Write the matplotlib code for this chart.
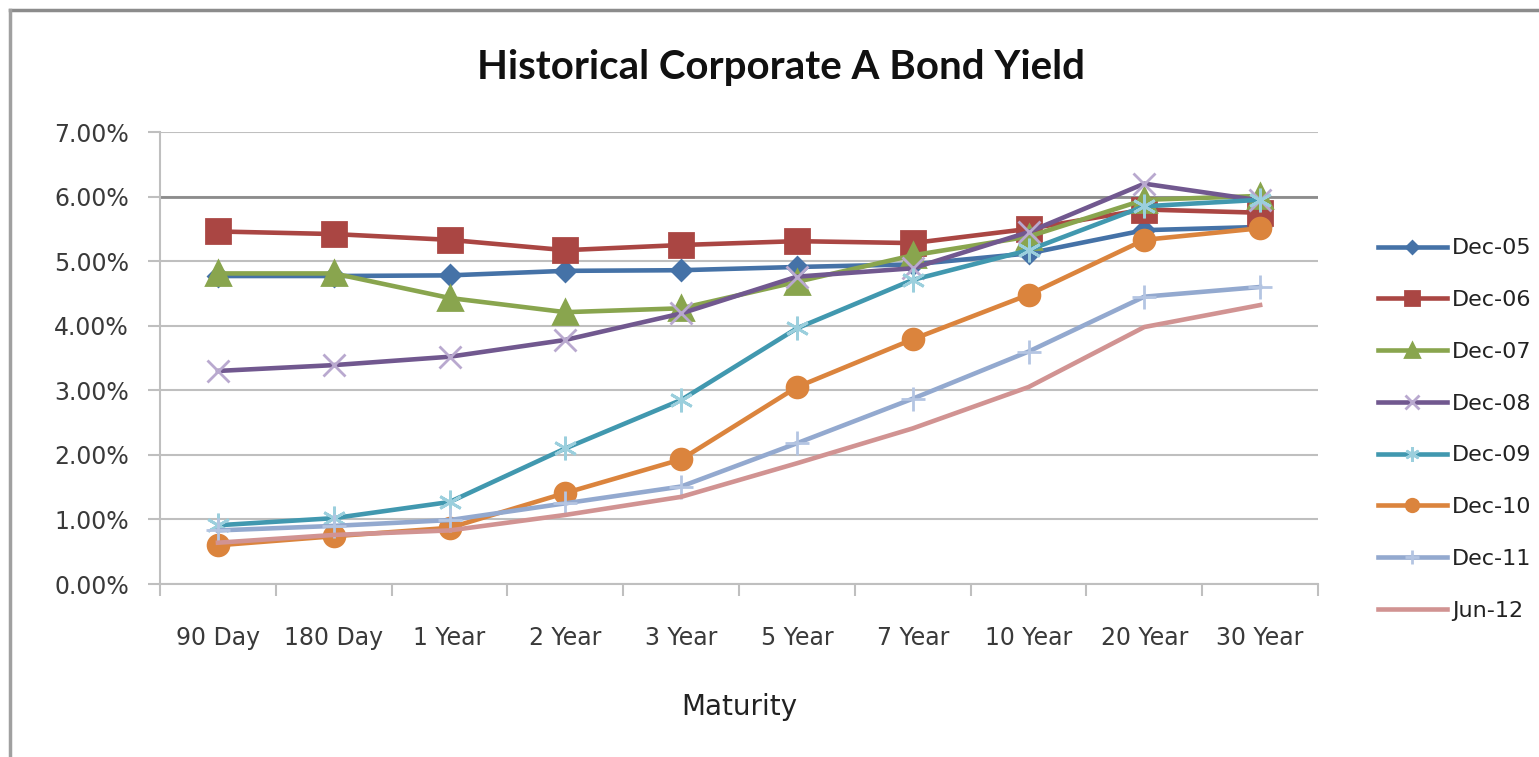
import matplotlib
matplotlib.use("Agg")
from matplotlib import pyplot as plt
from matplotlib.lines import Line2D
import numpy as np

# Maturities on the x axis
maturities = ["90 Day", "180 Day", "1 Year", "2 Year", "3 Year",
              "5 Year", "7 Year", "10 Year", "20 Year", "30 Year"]

# Yields in percent
dec05 = [4.77, 4.77, 4.78, 4.85, 4.86, 4.91, 4.95, 5.12, 5.48, 5.53]
dec06 = [5.46, 5.42, 5.33, 5.17, 5.25, 5.31, 5.28, 5.50, 5.80, 5.75]
dec07 = [4.81, 4.81, 4.43, 4.21, 4.27, 4.68, 5.09, 5.38, 5.95, 6.01]
dec08 = [3.30, 3.39, 3.52, 3.78, 4.19, 4.76, 4.89, 5.45, 6.20, 5.94]
dec09 = [0.91, 1.02, 1.27, 2.10, 2.85, 3.96, 4.71, 5.17, 5.85, 5.95]
dec10 = [0.60, 0.74, 0.87, 1.41, 1.93, 3.05, 3.79, 4.48, 5.33, 5.51]
dec11 = [0.83, 0.90, 0.99, 1.25, 1.51, 2.18, 2.87, 3.60, 4.45, 4.60]
jun12 = [0.64, 0.76, 0.83, 1.07, 1.35, 1.87, 2.41, 3.05, 3.98, 4.32]

series = [
    ("Dec-05", dec05, "#4572A7", "D", 10, "#4572A7"),
    ("Dec-06", dec06, "#AA4643", "s", 17, "#AA4643"),
    ("Dec-07", dec07, "#89A54E", "^", 17, "#89A54E"),
    ("Dec-08", dec08, "#71588F", "x", 16, "#B9A9CF"),
    ("Dec-09", dec09, "#4198AF", (6, 2, 0), 17, "#9BCFDD"),
    ("Dec-10", dec10, "#DB843D", "o", 15, "#DB843D"),
    ("Dec-11", dec11, "#93A9CF", "+", 17, "#B4C5E2"),
    ("Jun-12", jun12, "#D19392", None, 0, "#D19392"),
]

fig = plt.figure(figsize=(15.39, 7.57), dpi=100)
ax = fig.add_axes([0.104, 0.2285, 0.7524, 0.5971])

x = np.arange(len(maturities))
for name, vals, col, mk, ms, mcol in series:
    ax.plot(x, vals, color=col, lw=3.3, marker=mk, markersize=ms,
            markerfacecolor=mcol, markeredgecolor=mcol, markeredgewidth=2,
            label=name, zorder=3, solid_joinstyle="round")

ax.set_xlim(-0.5, len(maturities) - 0.5)
ax.set_ylim(0, 7)
ax.set_yticks(np.arange(0, 8, 1))
ax.set_yticklabels([f"{v:.2f}%" for v in range(8)])
ax.set_xticks(np.arange(-0.5, len(maturities), 1))
ax.set_xticklabels([])
ax.set_xticks(x, minor=True)
ax.set_xticklabels(maturities, minor=True)

ax.tick_params(axis="y", length=8.5, width=1.5, color="#BFBFBF", pad=14,
               labelsize=17, labelcolor="#3A3A3A")
ax.tick_params(axis="x", which="major", length=8.5, width=1.5, color="#BFBFBF")
ax.tick_params(axis="x", which="minor", length=0, pad=30,
               labelsize=17, labelcolor="#3A3A3A")

ax.grid(axis="y", color="#BFBFBF", lw=1.5, zorder=0)
ax.axhline(6, color="#8C8C8C", lw=2, zorder=1)
ax.set_axisbelow(True)
for s in ["top", "right"]:
    ax.spines[s].set_visible(False)
for s in ["left", "bottom"]:
    ax.spines[s].set_color("#BFBFBF")
    ax.spines[s].set_linewidth(1.5)

ax.set_xlabel("Maturity", fontsize=20, color="#222222", labelpad=31)
fig.text(0.5075, 1 - 68 / 757, "Historical Corporate A Bond Yield",
         ha="center", va="center", fontsize=29, fontweight="bold",
         family="Lato", color="#111111")

fig.legend(loc="center left", bbox_to_anchor=(0.888, 0.4326), frameon=False,
           fontsize=16, labelspacing=1.43, handlelength=3.1,
           handletextpad=0.25, borderpad=0, labelcolor="#222222",
           markerscale=0.6)

# outer chart border (top and left edges visible)
fig.add_artist(Line2D([10 / 1539, 1], [1 - 10 / 757, 1 - 10 / 757],
                      color="#8C8C8C", lw=2.5, transform=fig.transFigure))
fig.add_artist(Line2D([10 / 1539, 10 / 1539], [0, 1 - 10 / 757],
                      color="#A0A0A0", lw=2.5, transform=fig.transFigure))

plt.savefig("out.png", dpi=100)
plt.close()
